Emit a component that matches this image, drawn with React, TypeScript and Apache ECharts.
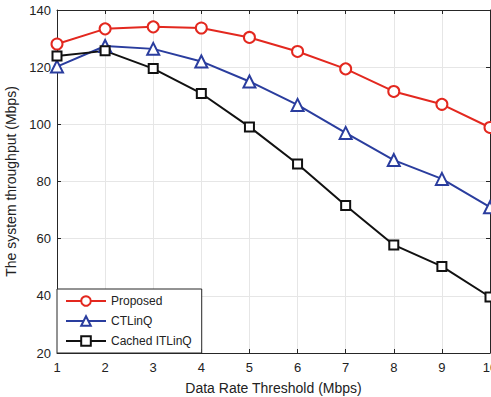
import React, { useEffect, useRef } from "react";
import * as echarts from "echarts";

const xValues = [1, 2, 3, 4, 5, 6, 7, 8, 9, 10];
const proposed = [128.1, 133.4, 134.1, 133.7, 130.4, 125.5, 119.4, 111.5, 107.0, 98.9];
const ctlinq = [120.2, 127.4, 126.4, 122.0, 115.0, 106.8, 97.0, 87.5, 80.9, 71.0];
const cached = [123.9, 125.7, 119.5, 110.8, 99.1, 86.1, 71.6, 57.8, 50.3, 39.6];
const seriesNames = ["Proposed", "CTLinQ", "Cached ITLinQ"];

const font = "Liberation Sans, Arial, Helvetica, sans-serif";

export default function App() {
  const ref = useRef<HTMLDivElement>(null);
  useEffect(() => {
    if (!ref.current) return;
    const chart = echarts.init(ref.current, undefined, { renderer: "svg" });
    const axisColor = "#262626";
    const mk = (name: string, data: number[], color: string, symbol: string, size: number) => ({
      name,
      type: "line",
      data: xValues.map((x, i) => [x, data[i]]),
      symbol,
      symbolSize: size,
      showSymbol: true,
      clip: false,
      lineStyle: { color, width: 2 },
      itemStyle: { color: "#fff", borderColor: color, borderWidth: 2 },
      emphasis: { disabled: true },
    });
    chart.setOption({
      animation: false,
      backgroundColor: "#fff",
      grid: {
        left: 57,
        top: 10,
        right: 1,
        bottom: 44,
        show: false,
        containLabel: false,
        outerBoundsMode: "none",
      },
      legend: {
        data: seriesNames,
        orient: "vertical",
        left: 57,
        bottom: 44,
        width: 143,
        padding: [6, 10, 6, 8],
        itemGap: 8,
        itemWidth: 40,
        itemHeight: 12,
        backgroundColor: "#fff",
        borderColor: axisColor,
        borderWidth: 1,
        borderRadius: 0,
        textStyle: { fontFamily: font, fontSize: 12, color: "#222" },
        selectedMode: false,
      },
      xAxis: [
        {
          type: "value",
          min: 1,
          max: 10,
          interval: 1,
          name: "Data Rate Threshold (Mbps)",
          nameLocation: "middle",
          nameGap: 28,
          nameTextStyle: { fontFamily: font, fontSize: 14, color: "#222" },
          axisLine: { show: true, onZero: false, lineStyle: { color: axisColor, width: 1 } },
          axisTick: { show: true, inside: true, length: 4, lineStyle: { color: axisColor } },
          axisLabel: { fontFamily: font, fontSize: 13, color: "#222", margin: 8 },
          splitLine: { show: true, lineStyle: { color: "#e6e6e6", width: 1 } },
        },
        {
          type: "value",
          position: "top",
          min: 1,
          max: 10,
          interval: 1,
          axisLine: { show: true, onZero: false, lineStyle: { color: axisColor, width: 1 } },
          axisTick: { show: true, inside: true, length: 4, lineStyle: { color: axisColor } },
          axisLabel: { show: false },
          splitLine: { show: false },
        },
      ],
      yAxis: [
        {
          type: "value",
          min: 20,
          max: 140,
          interval: 20,
          name: "The system throughput (Mbps)",
          nameLocation: "middle",
          nameGap: 34,
          nameTextStyle: { fontFamily: font, fontSize: 14, color: "#222" },
          axisLine: { show: true, onZero: false, lineStyle: { color: axisColor, width: 1 } },
          axisTick: { show: true, inside: true, length: 4, lineStyle: { color: axisColor } },
          axisLabel: { fontFamily: font, fontSize: 13, color: "#222", margin: 6 },
          splitLine: { show: true, lineStyle: { color: "#e6e6e6", width: 1 } },
        },
        {
          type: "value",
          position: "right",
          min: 20,
          max: 140,
          interval: 20,
          axisLine: { show: true, onZero: false, lineStyle: { color: axisColor, width: 1 } },
          axisTick: { show: true, inside: true, length: 4, lineStyle: { color: axisColor } },
          axisLabel: { show: false },
          splitLine: { show: false },
        },
      ],
      series: [
        mk(seriesNames[0], proposed, "#e3281f", "circle", 11),
        mk(seriesNames[1], ctlinq, "#2a3d9e", "triangle", 12),
        mk(seriesNames[2], cached, "#111111", "rect", 9),
      ],
    });
    return () => chart.dispose();
  }, []);
  return (
    <div
      ref={ref}
      style={{ position: "fixed", left: 0, top: 0, width: 491, height: 397 }}
    />
  );
}
